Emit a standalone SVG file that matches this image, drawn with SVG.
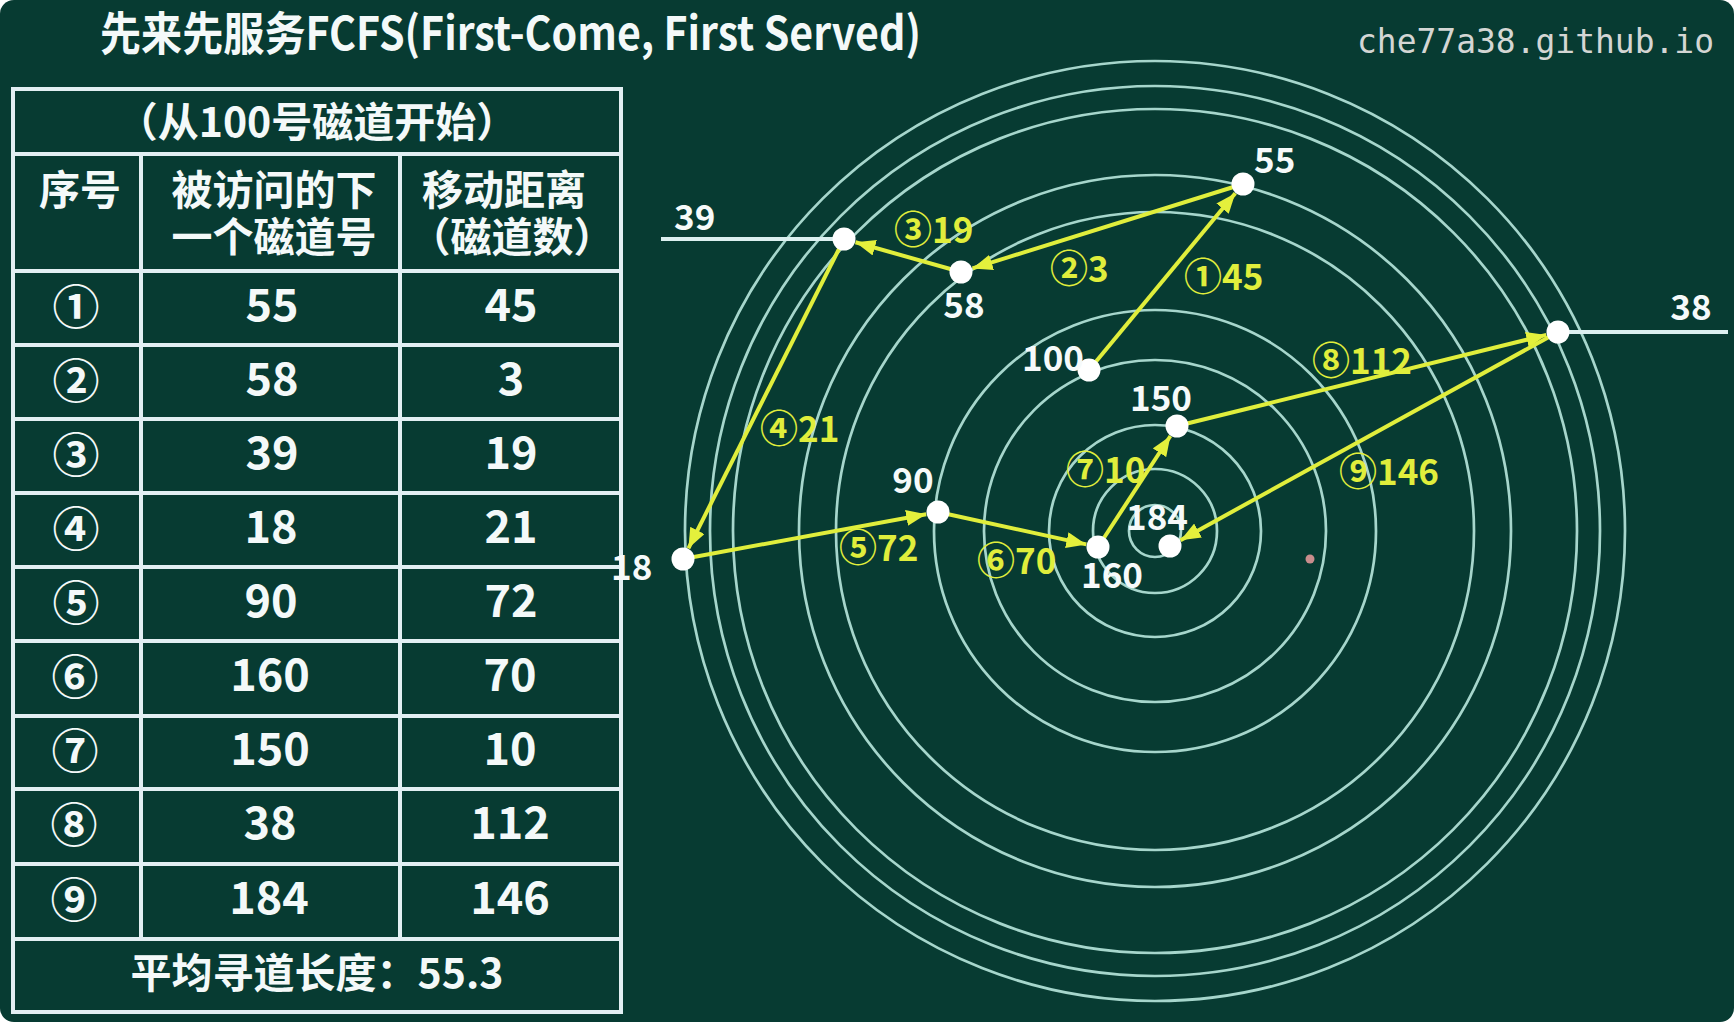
<svg xmlns="http://www.w3.org/2000/svg" width="1736" height="1024" viewBox="0 0 1736 1024">
<defs>
<style>
.bg{fill:#073b32}
.tb{stroke:#e2eff3;stroke-width:4;fill:none}
.ring{fill:none;stroke:#a6d6cc;stroke-width:2.7}
.tt{font-family:"Noto Sans CJK SC","Noto Sans",sans-serif;font-weight:bold;fill:#f4f9f9}
.hd{font-size:41px;text-anchor:middle}
.dt{font-size:45px;text-anchor:middle}
.ci{font-size:47px;text-anchor:middle}
.tl{font-family:"Noto Sans CJK SC","Noto Sans",sans-serif;font-weight:600;font-size:35px;fill:#f6fafa}
.yl{font-family:"Noto Sans CJK SC","Noto Sans",sans-serif;font-weight:600;font-size:35px;fill:#e0ee3c}
.yc{font-size:38px}
.dot{fill:#ffffff}
.arr{stroke:#e0ee3c;stroke-width:4;fill:none;marker-end:url(#ah)}
.trk{stroke:#dcf0f0;stroke-width:4}
</style>
<marker id="ah" viewBox="0 0 20 16" refX="20" refY="8" markerWidth="20" markerHeight="16" markerUnits="userSpaceOnUse" orient="auto">
<path d="M0,0 L20,8 L0,16 z" fill="#e4f03c"/>
</marker>
</defs>
<rect x="0" y="0" width="1736" height="1024" fill="#ffffff"/>
<rect class="bg" x="0" y="0" width="1734" height="1022" rx="14" ry="14"/>

<text x="100" y="50" class="tt" font-size="46" textLength="821" lengthAdjust="spacingAndGlyphs">先来先服务FCFS(First-Come, First Served)</text>
<text x="1357" y="53" font-family="'DejaVu Sans Mono','Liberation Mono',monospace" font-size="33" fill="#d4d6d4" textLength="357" lengthAdjust="spacingAndGlyphs">che77a38.github.io</text>

<g id="table">
<rect class="tb" x="13" y="89" width="608" height="923"/>
<line class="tb" x1="13" y1="154" x2="621" y2="154"/>
<line class="tb" x1="13" y1="271" x2="621" y2="271"/>
<line class="tb" x1="13" y1="345" x2="621" y2="345"/>
<line class="tb" x1="13" y1="419" x2="621" y2="419"/>
<line class="tb" x1="13" y1="493" x2="621" y2="493"/>
<line class="tb" x1="13" y1="567" x2="621" y2="567"/>
<line class="tb" x1="13" y1="641" x2="621" y2="641"/>
<line class="tb" x1="13" y1="716" x2="621" y2="716"/>
<line class="tb" x1="13" y1="789" x2="621" y2="789"/>
<line class="tb" x1="13" y1="864" x2="621" y2="864"/>
<line class="tb" x1="13" y1="939" x2="621" y2="939"/>
<line class="tb" x1="141" y1="154" x2="141" y2="939"/>
<line class="tb" x1="400" y1="154" x2="400" y2="939"/>

<text class="tt hd" x="317" y="137">（从100号磁道开始）</text>
<text class="tt hd" x="80" y="205">序号</text>
<text class="tt hd"><tspan x="274" y="205">被访问的下</tspan><tspan x="274" y="252">一个磁道号</tspan></text>
<text class="tt hd"><tspan x="504" y="205">移动距离</tspan><tspan x="512" y="252">（磁道数）</tspan></text>

<text class="tt ci" x="76" y="324">①</text><text class="tt dt" x="272" y="321">55</text><text class="tt dt" x="511" y="321">45</text>
<text class="tt ci" x="76" y="398">②</text><text class="tt dt" x="272" y="395">58</text><text class="tt dt" x="511" y="395">3</text>
<text class="tt ci" x="76" y="472">③</text><text class="tt dt" x="272" y="469">39</text><text class="tt dt" x="511" y="469">19</text>
<text class="tt ci" x="76" y="546">④</text><text class="tt dt" x="271" y="543">18</text><text class="tt dt" x="511" y="543">21</text>
<text class="tt ci" x="76" y="620">⑤</text><text class="tt dt" x="271" y="617">90</text><text class="tt dt" x="511" y="617">72</text>
<text class="tt ci" x="75" y="694">⑥</text><text class="tt dt" x="270" y="691">160</text><text class="tt dt" x="510" y="691">70</text>
<text class="tt ci" x="75" y="768">⑦</text><text class="tt dt" x="270" y="765">150</text><text class="tt dt" x="510" y="765">10</text>
<text class="tt ci" x="74" y="842">⑧</text><text class="tt dt" x="270" y="839">38</text><text class="tt dt" x="510" y="839">112</text>
<text class="tt ci" x="74" y="917">⑨</text><text class="tt dt" x="269" y="914">184</text><text class="tt dt" x="510" y="914">146</text>

<text class="tt hd" x="317" y="988">平均寻道长度：55.3</text>
</g>

<g id="disk">
<circle class="ring" cx="1155" cy="531" r="26"/>
<circle class="ring" cx="1155" cy="531" r="62"/>
<circle class="ring" cx="1155" cy="531" r="106"/>
<circle class="ring" cx="1155" cy="531" r="171"/>
<circle class="ring" cx="1155" cy="531" r="221"/>
<circle class="ring" cx="1155" cy="531" r="319"/>
<circle class="ring" cx="1155" cy="531" r="356"/>
<circle class="ring" cx="1155" cy="531" r="422"/>
<circle class="ring" cx="1155" cy="531" r="445"/>
<circle class="ring" cx="1155" cy="531" r="470"/>
<line class="trk" x1="661" y1="239" x2="844" y2="239"/>
<line class="trk" x1="1558" y1="332" x2="1728" y2="332"/>
<circle cx="1310" cy="559" r="4.5" fill="#c98d8d"/>
</g>

<g id="connectors">
<line class="arr" x1="1089" y1="370" x2="1235.3" y2="193.2"/>
<line class="arr" x1="1243" y1="184" x2="972.5" y2="268.4"/>
<line class="arr" x1="961" y1="272" x2="855.5" y2="242.3"/>
<line class="arr" x1="844" y1="239" x2="688.4" y2="548.3"/>
<line class="arr" x1="683" y1="559" x2="926.2" y2="514.2"/>
<line class="arr" x1="938" y1="512" x2="1086.3" y2="544.4"/>
<line class="arr" x1="1098" y1="547" x2="1170.4" y2="436"/>
<line class="arr" x1="1177" y1="426" x2="1546.3" y2="334.9"/>
<line class="arr" x1="1558" y1="332" x2="1180.5" y2="540.2"/>
<text class="yl" x="1184" y="290"><tspan class="yc">①</tspan>45</text>
<text class="yl" x="1050" y="282"><tspan class="yc">②</tspan>3</text>
<text class="yl" x="894" y="243"><tspan class="yc">③</tspan>19</text>
<text class="yl" x="760" y="442"><tspan class="yc">④</tspan>21</text>
<text class="yl" x="839" y="561"><tspan class="yc">⑤</tspan>72</text>
<text class="yl" x="977" y="574"><tspan class="yc">⑥</tspan>70</text>
<text class="yl" x="1066" y="483"><tspan class="yc">⑦</tspan>10</text>
<text class="yl" x="1312" y="374"><tspan class="yc">⑧</tspan>112</text>
<text class="yl" x="1339" y="485"><tspan class="yc">⑨</tspan>146</text>
</g>

<g id="n100"><circle class="dot" cx="1089" cy="370" r="11.5"/><text class="tl" x="1084" y="371" text-anchor="end">100</text></g>
<g id="n55"><circle class="dot" cx="1243" cy="184" r="11.5"/><text class="tl" x="1254" y="173">55</text></g>
<g id="n58"><circle class="dot" cx="961" cy="272" r="11.5"/><text class="tl" x="964" y="318" text-anchor="middle">58</text></g>
<g id="n39"><circle class="dot" cx="844" cy="239" r="11.5"/><text class="tl" x="674" y="230">39</text></g>
<g id="n18"><circle class="dot" cx="683" cy="559" r="11.5"/><text class="tl" x="611" y="580">18</text></g>
<g id="n90"><circle class="dot" cx="938" cy="512" r="11.5"/><text class="tl" x="913" y="493" text-anchor="middle">90</text></g>
<g id="n160"><circle class="dot" cx="1098" cy="547" r="11.5"/><text class="tl" x="1112" y="588" text-anchor="middle">160</text></g>
<g id="n150"><circle class="dot" cx="1177" cy="426" r="11.5"/><text class="tl" x="1161" y="411" text-anchor="middle">150</text></g>
<g id="n38"><circle class="dot" cx="1558" cy="332" r="11.5"/><text class="tl" x="1691" y="320" text-anchor="middle">38</text></g>
<g id="n184"><circle class="dot" cx="1170" cy="546" r="11.5"/><text class="tl" x="1157" y="530" text-anchor="middle">184</text></g>
</svg>
